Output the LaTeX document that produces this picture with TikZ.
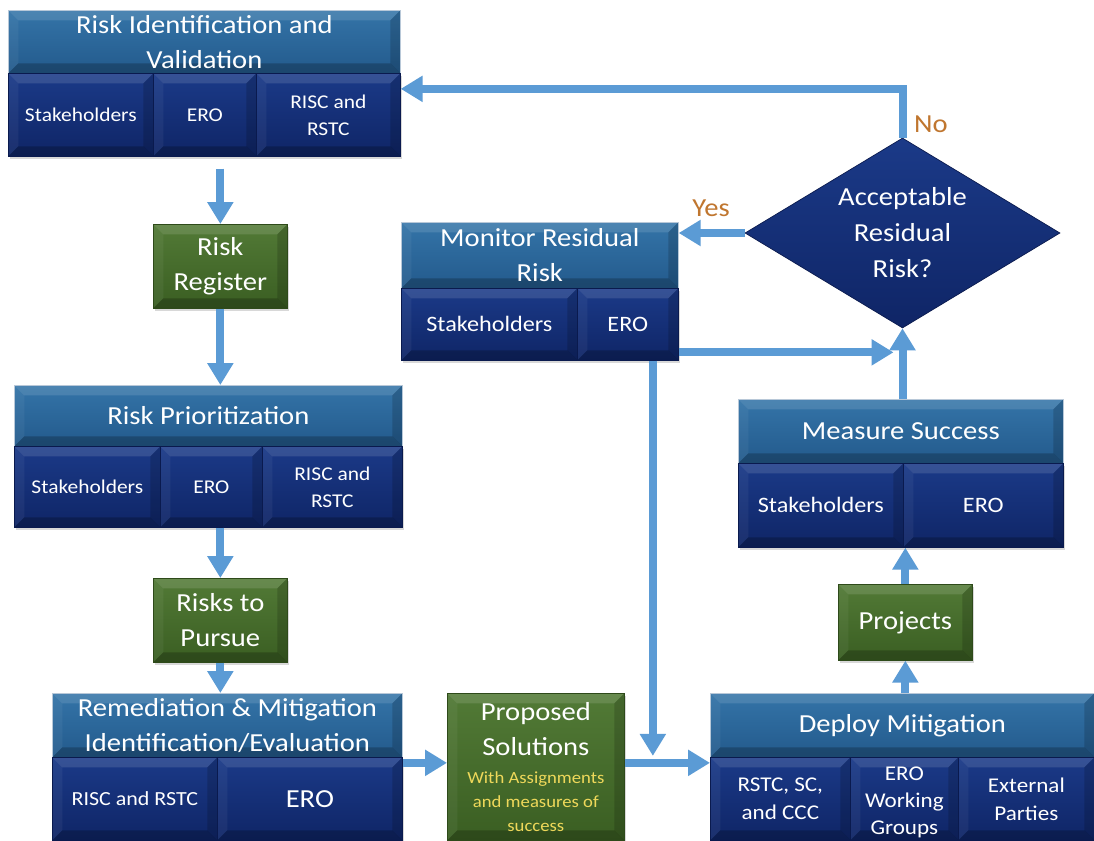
\documentclass[tikz,border=0pt]{standalone}
\usepackage{fontspec}
\setmainfont{Carlito}[FakeStretch=1.1]
\usetikzlibrary{arrows.meta,shapes.geometric,shadows}
\definecolor{hdrA}{HTML}{3474A8}
\definecolor{hdrB}{HTML}{235A8C}
\definecolor{hdrL}{HTML}{B8C8D8}
\definecolor{navA}{HTML}{1B3A88}
\definecolor{navB}{HTML}{0F2566}
\definecolor{navL}{HTML}{0A1A4E}
\definecolor{grnA}{HTML}{527A36}
\definecolor{grnB}{HTML}{3A5E22}
\definecolor{grnL}{HTML}{2E4A1A}
\definecolor{arrC}{HTML}{5B9BD5}
\definecolor{lblC}{HTML}{C0762F}
\definecolor{yel}{HTML}{EED85A}
\newcommand{\bv}{10pt}
\tikzset{
  bevel/.style={path picture={
    \path (path picture bounding box.north west) coordinate (pnw)
          (path picture bounding box.south east) coordinate (pse);
    \fill[white,opacity=.12] (pnw) -- (pnw -| pse) -- ([xshift=-\bv,yshift=-\bv]pnw -| pse) -- ([xshift=\bv,yshift=-\bv]pnw) -- cycle;
    \fill[white,opacity=.05] (pnw) -- ([xshift=\bv,yshift=-\bv]pnw) -- ([xshift=\bv,yshift=\bv]pnw |- pse) -- (pnw |- pse) -- cycle;
    \fill[black,opacity=.16] (pse) -- (pse |- pnw) -- ([xshift=-\bv,yshift=-\bv]pse |- pnw) -- ([xshift=-\bv,yshift=\bv]pse) -- cycle;
    \fill[black,opacity=.22] (pse) -- ([xshift=-\bv,yshift=\bv]pse) -- ([xshift=\bv,yshift=\bv]pnw |- pse) -- (pnw |- pse) -- cycle;
  }},
  box/.style={rectangle, inner sep=2pt, align=center, text=white, anchor=north west, bevel},
  hdr/.style={box, top color=hdrA, bottom color=hdrB, draw=hdrL, line width=0.7pt, font=\fontsize{26}{35}\selectfont},
  cell/.style={box, top color=navA, bottom color=navB, draw=navL, line width=0.7pt,
     drop shadow={opacity=0.3, shadow xshift=1.5pt, shadow yshift=-3pt}},
  csmall/.style={cell, font=\fontsize{19.5}{27}\selectfont},
  cmid/.style={cell, font=\fontsize{22}{30}\selectfont},
  grn/.style={box, top color=grnA, bottom color=grnB, draw=grnL, line width=0.7pt, font=\fontsize{26}{35}\selectfont,
     drop shadow={opacity=0.3, shadow xshift=1.5pt, shadow yshift=-3pt}},
  dia/.style={diamond, shape aspect=1.66, inner sep=0pt, minimum width=315pt, minimum height=190pt,
     top color=navA, bottom color=navB, draw=navL, line width=0.7pt, text=white, align=center,
     font=\fontsize{26}{36}\selectfont},
  lbl/.style={text=lblC, font=\fontsize{26}{30}\selectfont},
  arr/.style={draw=arrC, line width=8pt, line join=miter, -{Triangle[length=22pt,width=25pt]}},
}
\begin{document}
\begin{tikzpicture}[x=1pt,y=-1pt]
\useasboundingbox[fill=white] (0,0) rectangle (1094,840);

% Risk Identification and Validation
\node[hdr, minimum width=392pt, minimum height=63pt] (b1h) at (8,10) {Risk Identification and\\Validation};
\node[csmall, minimum width=145pt, minimum height=83pt] (b1s) at (8,73) {Stakeholders};
\node[csmall, minimum width=103pt, minimum height=83pt] (b1e) at (153,73) {ERO};
\node[csmall, minimum width=144pt, minimum height=83pt] (b1r) at (256,73) {RISC and\\RSTC};

% Risk Register
\node[grn, minimum width=134pt, minimum height=84pt] (rr) at (153,224) {Risk\\Register};

% Risk Prioritization
\node[hdr, minimum width=388pt, minimum height=61pt] (rph) at (14,385) {Risk Prioritization};
\node[csmall, minimum width=146pt, minimum height=81pt] (rps) at (14,446) {Stakeholders};
\node[csmall, minimum width=102pt, minimum height=81pt] (rpe) at (160,446) {ERO};
\node[csmall, minimum width=140pt, minimum height=81pt] (rpr) at (262,446) {RISC and\\RSTC};

% Risks to Pursue
\node[grn, minimum width=134pt, minimum height=84pt] (rtp) at (153,578) {Risks to\\Pursue};

% Remediation & Mitigation
\node[hdr, minimum width=350pt, minimum height=64pt] (remh) at (52,693) {Remediation \& Mitigation\\Identification/Evaluation};
\node[cell, font=\fontsize{20}{27}\selectfont, minimum width=165pt, minimum height=83pt] (remr) at (52,757) {RISC and RSTC};
\node[cell, font=\fontsize{26}{32}\selectfont, minimum width=185pt, minimum height=83pt] (reme) at (217,757) {ERO};

% Proposed Solutions
\node[grn, minimum width=177pt, minimum height=147pt] (ps) at (447,693)
  {Proposed\\Solutions\\[-7pt]{\color{yel}\fontsize{17}{24}\selectfont With Assignments}\\[-11pt]{\color{yel}\fontsize{17}{24}\selectfont and measures of}\\[-11pt]{\color{yel}\fontsize{17}{24}\selectfont success}};

% Deploy Mitigation
\node[hdr, minimum width=384pt, minimum height=64pt] (dh) at (710,693) {Deploy Mitigation};
\node[cell, font=\fontsize{21}{28}\selectfont, minimum width=140pt, minimum height=83pt] (d1) at (710,757) {RSTC, SC,\\and CCC};
\node[cell, font=\fontsize{21}{27}\selectfont, minimum width=108pt, minimum height=83pt, text depth=2pt] (d2) at (850,757) {\strut ERO\\Working\\Groups};
\node[cell, font=\fontsize{21}{28}\selectfont, minimum width=136pt, minimum height=83pt] (d3) at (958,757) {External\\Parties};

% Projects
\node[grn, minimum width=134pt, minimum height=76pt] (proj) at (838,584) {Projects};

% Measure Success
\node[hdr, minimum width=325pt, minimum height=64pt] (msh) at (738,399) {Measure Success};
\node[cmid, minimum width=165pt, minimum height=84pt] (mss) at (738,463) {Stakeholders};
\node[cmid, minimum width=160pt, minimum height=84pt] (mse) at (903,463) {ERO};

% Monitor Residual Risk
\node[hdr, minimum width=277pt, minimum height=66pt] (mh) at (401,222) {Monitor Residual\\Risk};
\node[cmid, minimum width=176pt, minimum height=72pt] (mos) at (401,288) {Stakeholders};
\node[cmid, minimum width=101pt, minimum height=72pt] (moe) at (577,288) {ERO};

% Decision
\node[dia] (dec) at (902.5,233) {Acceptable\\Residual\\Risk?};

% Labels
\node[lbl] (no) at (931,124) {No};
\node[lbl] (yes) at (711,208) {Yes};

% Connectors
\coordinate (b1in) at ([yshift=26pt]b1r.east);
\coordinate (remout) at ([yshift=36pt]reme.east);
\coordinate (monout) at ([yshift=-28pt]moe.east);
\coordinate (mondown) at ([xshift=25pt]moe.south);
\coordinate (merge) at (mondown |- remout);
\coordinate (join) at (dec.south |- monout);

\draw[arr] (rr.north |- b1e.south) ++(0,12) -- (rr.north);
\draw[arr] (rr.south) -- (rr.south |- rph.north);
\draw[arr] (rtp.north |- rpe.south) -- (rtp.north);
\draw[arr] (rtp.south) -- (rtp.south |- remh.north);
\draw[arr] (remout) -- (remout -| ps.west);
\draw[arr] (ps.east |- remout) -- (d1.west |- remout);
\draw[arr] (mondown) -- ([yshift=7pt]merge);
\draw[arr] (proj.south |- dh.north) -- (proj.south);
\draw[arr] (proj.north) -- (proj.north |- mse.south);
\draw[arr] (dec.south |- msh.north) -- (dec.south);
\draw[arr] (monout) -- ([xshift=-9pt]join);
\draw[arr] (dec.west) -- (dec.west -| mh.east);
\draw[arr] (dec.north) |- (b1in);
\end{tikzpicture}
\end{document}
